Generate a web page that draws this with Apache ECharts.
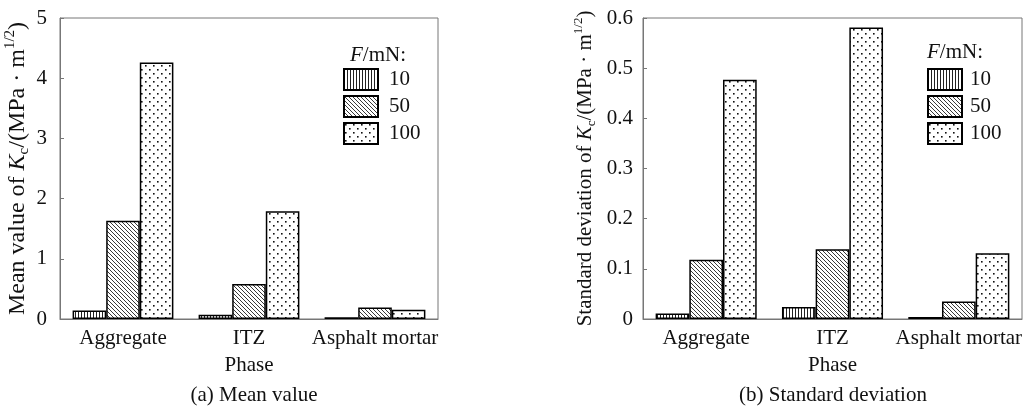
<!DOCTYPE html>
<html>
<head>
<meta charset="utf-8">
<script src="https://cdn.jsdelivr.net/npm/echarts@6/dist/echarts.min.js"></script>
<style>
html,body{margin:0;padding:0;background:#fff;}
#c{width:1031px;height:413px;}
</style>
</head>
<body>
<div id="c"></div>
<script>
const categories = ['Aggregate', 'ITZ', 'Asphalt mortar'];
const forceLevels = ['10', '50', '100'];
const meanValues = {
  '10': [0.14, 0.07, 0.03],
  '50': [1.63, 0.58, 0.19],
  '100': [4.26, 1.79, 0.155]
};
const stdValues = {
  '10': [0.011, 0.024, 0.004],
  '50': [0.118, 0.139, 0.035],
  '100': [0.477, 0.581, 0.131]
};
const meanTicks = [0, 1, 2, 3, 4, 5];
const stdTicks = [0, 0.1, 0.2, 0.3, 0.4, 0.5, 0.6];

const FONT = '"Liberation Serif", "Times New Roman", serif';
const FS = 21;

function makePattern(kind) {
  const c = document.createElement('canvas');
  const ctx = c.getContext('2d');
  if (kind === 'v') {
    c.width = 3; c.height = 3;
    ctx.fillStyle = '#fff'; ctx.fillRect(0, 0, 3, 3);
    ctx.fillStyle = '#222'; ctx.fillRect(0, 0, 1, 3);
  } else if (kind === 'd') {
    c.width = 4; c.height = 4;
    ctx.fillStyle = '#fff'; ctx.fillRect(0, 0, 4, 4);
    ctx.strokeStyle = '#222'; ctx.lineWidth = 0.9;
    ctx.beginPath();
    ctx.moveTo(-1, -1); ctx.lineTo(5, 5);
    ctx.moveTo(-1, 3); ctx.lineTo(1, 5);
    ctx.moveTo(3, -1); ctx.lineTo(5, 1);
    ctx.stroke();
  } else {
    c.width = 8; c.height = 8;
    ctx.fillStyle = '#fff'; ctx.fillRect(0, 0, 8, 8);
    ctx.fillStyle = '#111';
    ctx.fillRect(1, 1, 1.6, 1.6);
    ctx.fillRect(5, 5, 1.6, 1.6);
  }
  return { image: c, repeat: 'repeat' };
}
const patterns = { '10': makePattern('v'), '50': makePattern('d'), '100': makePattern('p') };

function axisName(prefix) {
  return '{t|' + prefix + '}{i|K}{s|c}{t|/(MPa · m}{p|1/2}{t|)}';
}
function nameRich(fs, ss) {
  return {
    t: { fontFamily: FONT, fontSize: fs, color: '#111', lineHeight: fs + 5 },
    i: { fontFamily: FONT, fontSize: fs, fontStyle: 'italic', color: '#111', lineHeight: fs + 5 },
    s: { fontFamily: FONT, fontSize: ss, color: '#111', lineHeight: ss, verticalAlign: 'bottom' },
    p: { fontFamily: FONT, fontSize: ss, color: '#111', lineHeight: ss, verticalAlign: 'top' }
  };
}

const grids = [
  { left: 60, top: 18, width: 378, height: 301, show: true, borderColor: '#777', borderWidth: 1 },
  { left: 643, top: 18, width: 379, height: 301, show: true, borderColor: '#777', borderWidth: 1 }
];

function xAxis(idx) {
  return {
    type: 'category', gridIndex: idx, data: categories,
    name: 'Phase', nameLocation: 'middle', nameGap: 36,
    nameTextStyle: { fontFamily: FONT, fontSize: FS, color: '#111' },
    axisLine: { lineStyle: { color: '#777', width: 1 } },
    axisTick: { show: false },
    axisLabel: { fontFamily: FONT, fontSize: FS, color: '#111', margin: 9, interval: 0 }
  };
}
function yAxis(idx, ticks, prefix, gap, fmt, margin, fs, ss) {
  return {
    type: 'value', gridIndex: idx, min: ticks[0], max: ticks[ticks.length - 1],
    interval: ticks[1] - ticks[0],
    name: axisName(prefix), nameLocation: 'middle', nameGap: gap,
    nameTextStyle: { rich: nameRich(fs, ss) },
    axisLine: { show: true, lineStyle: { color: '#777', width: 1 } },
    axisTick: { show: true, inside: true, length: 4, lineStyle: { color: '#777' } },
    splitLine: { show: false },
    axisLabel: { fontFamily: FONT, fontSize: FS, color: '#111', margin: margin, formatter: fmt }
  };
}

const series = [];
[meanValues, stdValues].forEach((vals, gi) => {
  forceLevels.forEach(f => {
    series.push({
      type: 'bar', name: f, xAxisIndex: gi, yAxisIndex: gi,
      data: vals[f], barGap: '0%', barCategoryGap: '20%',
      itemStyle: { color: patterns[f], borderColor: '#000', borderWidth: 1.5 },
      emphasis: { disabled: true }
    });
  });
});

function legend(left, textPad) {
  return {
    left: left, top: 68, orient: 'vertical', data: forceLevels, icon: 'rect',
    padding: 0, itemWidth: 34, itemHeight: 21, itemGap: 4,
    textStyle: { fontFamily: FONT, fontSize: FS, color: '#111', padding: [0, 0, 0, textPad] },
    selectedMode: false
  };
}

const fmRich = { i: { fontFamily: FONT, fontSize: FS, fontStyle: 'italic', fill: '#111' }, t: { fontFamily: FONT, fontSize: FS, fill: '#111' } };

const chart = echarts.init(document.getElementById('c'), null, { renderer: 'canvas' });
chart.setOption({
  animation: false,
  backgroundColor: '#fff',
  grid: grids,
  xAxis: [xAxis(0), xAxis(1)],
  yAxis: [
    yAxis(0, meanTicks, 'Mean value of ', 28, v => String(v), 13, 24, 15),
    yAxis(1, stdTicks, 'Standard deviation of ', 45, v => v === 0 ? '0' : v.toFixed(1), 10, 21, 13)
  ],
  legend: [legend(343, 6), legend(927, 3)],
  series: series,
  graphic: [
    { type: 'text', left: 350, top: 45, style: { rich: fmRich, text: '{i|F}{t|/mN:}' } },
    { type: 'text', left: 927, top: 42, style: { rich: fmRich, text: '{i|F}{t|/mN:}' } },
    { type: 'text', x: 254, y: 395, style: { text: '(a) Mean value', font: FS + 'px ' + FONT, fill: '#111', align: 'center', verticalAlign: 'middle' } },
    { type: 'text', x: 833, y: 395, style: { text: '(b) Standard deviation', font: FS + 'px ' + FONT, fill: '#111', align: 'center', verticalAlign: 'middle' } }
  ]
});
</script>
</body>
</html>
